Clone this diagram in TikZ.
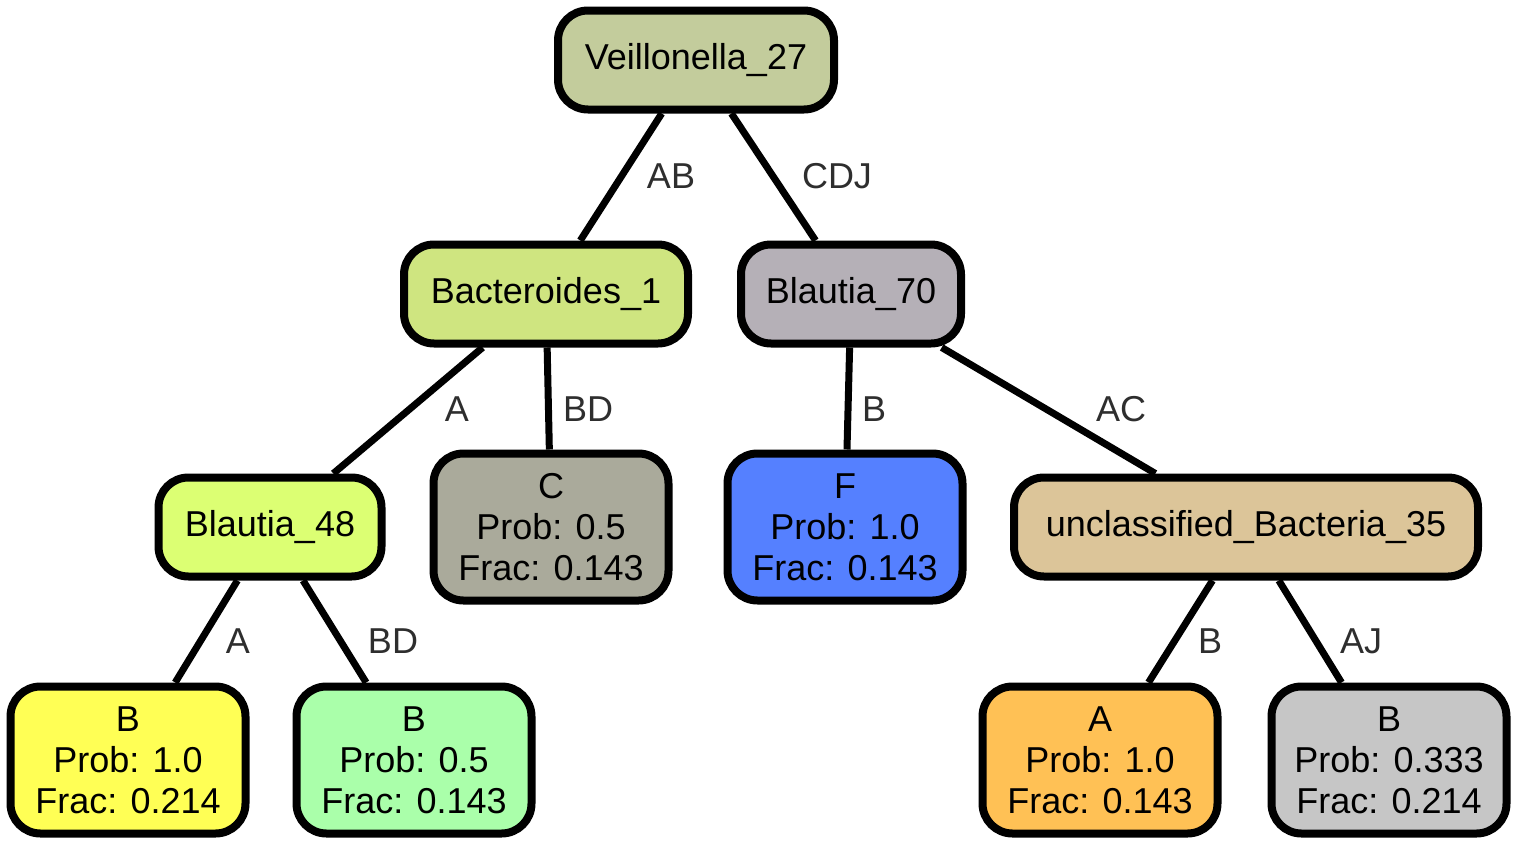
\documentclass[tikz,border=0pt]{standalone}
\usepackage{fontspec}
\setmainfont{Liberation Sans}
\begin{document}
\begin{tikzpicture}[x=1pt,y=-1pt,
  tnode/.style={draw=black, line width=8pt, rounded corners=30pt, inner sep=0pt,
    align=center, font=\fontsize{36}{41}\selectfont, text=black},
  inner/.style={tnode, minimum height=99pt},
  leaf/.style={tnode, minimum height=147pt, minimum width=235pt},
  edge/.style={line width=7pt},
  elabel/.style={font=\fontsize{36}{41}\selectfont, text=black!82, inner sep=0pt}]
\definecolor{cVei}{HTML}{C3CC9C}
\definecolor{cBac}{HTML}{CFE580}
\definecolor{cBl70}{HTML}{B5B0B7}
\definecolor{cBl48}{HTML}{DCFF73}
\definecolor{cC}{HTML}{AAAA9B}
\definecolor{cF}{HTML}{5580FF}
\definecolor{cUnc}{HTML}{DCC599}
\definecolor{cBy}{HTML}{FFFF55}
\definecolor{cBg}{HTML}{AAFFAA}
\definecolor{cA}{HTML}{FFC155}
\definecolor{cBgr}{HTML}{C6C6C6}
\useasboundingbox (0,0) rectangle (1521,846);
% tree nodes
\node[inner, fill=cVei, minimum width=276pt] (vei) at (696,60) {Veillonella\_27};
\node[inner, fill=cBac, minimum width=284pt] (bac) at (546,294) {Bacteroides\_1};
\node[inner, fill=cBl70, minimum width=220pt] (bl70) at (851,294) {Blautia\_70};
\node[inner, fill=cBl48, minimum width=223pt] (bl48) at (270,527) {Blautia\_48};
\node[leaf, fill=cC] (c) at (551,527) {C\\Prob: 0.5\\Frac: 0.143};
\node[leaf, fill=cF] (f) at (845,527) {F\\Prob: 1.0\\Frac: 0.143};
\node[inner, fill=cUnc, minimum width=464pt] (unc) at (1246,527) {unclassified\_Bacteria\_35};
\node[leaf, fill=cBy] (by) at (128,760) {B\\Prob: 1.0\\Frac: 0.214};
\node[leaf, fill=cBg] (bg) at (414,760) {B\\Prob: 0.5\\Frac: 0.143};
\node[leaf, fill=cA] (a) at (1100,760) {A\\Prob: 1.0\\Frac: 0.143};
\node[leaf, fill=cBgr] (bgr) at (1389,760) {B\\Prob: 0.333\\Frac: 0.214};
% connectors
\draw[edge] (vei) -- (bac);
\draw[edge] (vei) -- (bl70);
\draw[edge] (bac) -- (bl48);
\draw[edge] (bac) -- (c);
\draw[edge] (bl70) -- (f);
\draw[edge] (bl70) -- (unc);
\draw[edge] (bl48) -- (by);
\draw[edge] (bl48) -- (bg);
\draw[edge] (unc) -- (a);
\draw[edge] (unc) -- (bgr);
% connector labels
\node[elabel] (lAB) at (671,176) {AB};
\node[elabel] (lCDJ) at (837,176) {CDJ};
\node[elabel] (lA1) at (457,409) {A};
\node[elabel] (lBD1) at (588,409) {BD};
\node[elabel] (lB1) at (874,409) {B};
\node[elabel] (lAC) at (1121,409) {AC};
\node[elabel] (lA2) at (238,641) {A};
\node[elabel] (lBD2) at (393,641) {BD};
\node[elabel] (lB2) at (1210,641) {B};
\node[elabel] (lAJ) at (1361,641) {AJ};
\end{tikzpicture}
\end{document}
